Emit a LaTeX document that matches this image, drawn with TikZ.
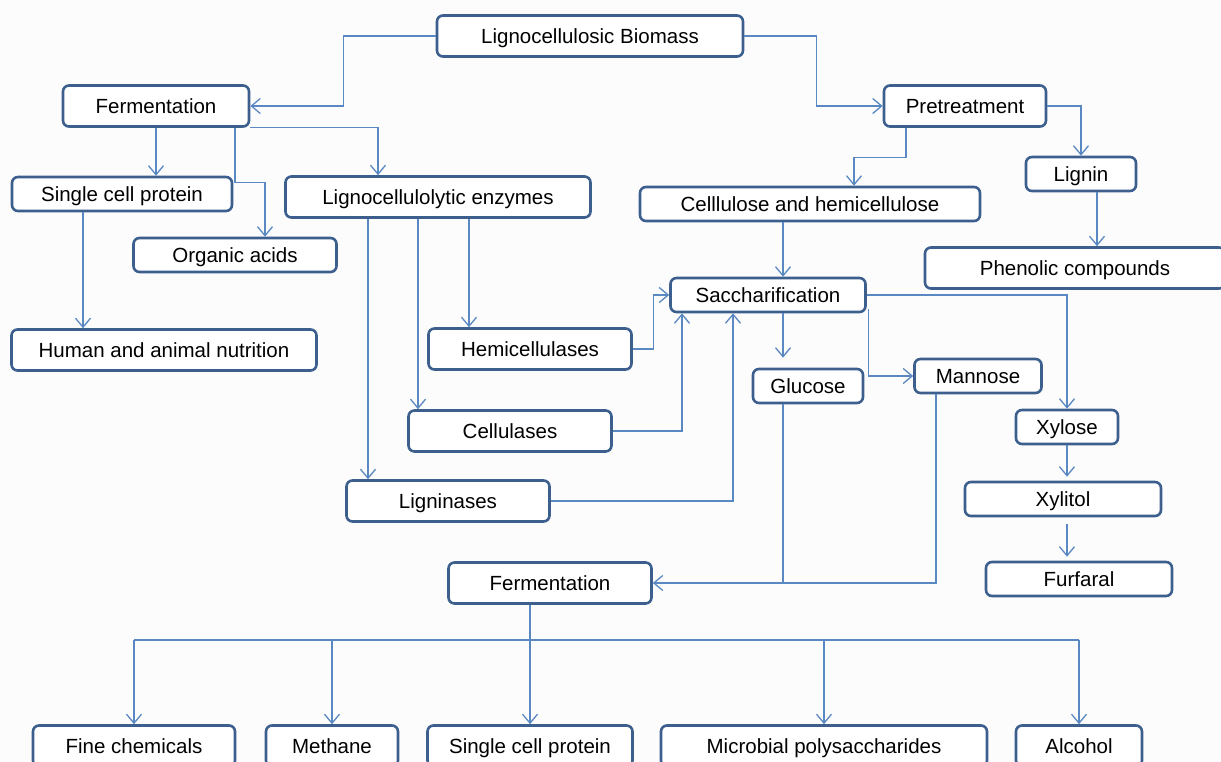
\documentclass[tikz,border=0pt]{standalone}
\usepackage{fontspec}
\setmainfont{Liberation Sans}
\usetikzlibrary{arrows.meta}
\definecolor{boxblue}{HTML}{3C5F8E}
\definecolor{lineblue}{HTML}{5A88C2}
\tikzset{
  box/.style={draw=boxblue, line width=2.6pt, rounded corners=6pt, fill=white,
    inner sep=0pt, text height=14.7pt, text depth=0pt,
    font=\fontsize{20.5}{24}\selectfont},
  tall/.style={minimum height=41pt},
  short/.style={minimum height=34pt},
  line/.style={draw=lineblue, line width=1.3pt},
  link/.style={line, -{Straight Barb[length=9pt,width=15pt,line width=1.3pt]}}
}
\begin{document}
\begin{tikzpicture}[x=1pt,y=-1pt]

      \useasboundingbox (0,0) rectangle (1221,762);
      \fill[white!99!black] (0,0) rectangle (1221,762);
      \clip (0,0) rectangle (1221,762);

      \begin{scope}[every node/.style={box}]
        \node[tall, minimum width=306pt]  (bio)   at (590,36)  {Lignocellulosic Biomass};
        \node[tall, minimum width=186pt]  (fermA) at (156,106) {Fermentation};
        \node[tall, minimum width=162pt]  (pre)   at (965,106) {Pretreatment};
        \node[short, minimum width=220pt] (scpA)  at (122,194) {Single cell protein};
        \node[tall, minimum width=305pt]  (enz)   at (438,197) {Lignocellulolytic enzymes};
        \node[short, minimum width=203pt] (org)   at (235,255) {Organic acids};
        \node[short, minimum width=340pt] (cel)   at (810,204) {Celllulose and hemicellulose};
        \node[short, minimum width=110pt] (lignin) at (1081,174) {Lignin};
        \node[tall, minimum width=300pt]  (phen)  at (1075,268) {Phenolic compounds};
        \node[short, minimum width=195pt] (sacch) at (768,295) {Saccharification};
        \node[tall, minimum width=305pt]  (hum)   at (164,350) {Human and animal nutrition};
        \node[tall, minimum width=203pt]  (hemi)  at (530,349) {Hemicellulases};
        \node[short, minimum width=110pt] (glu)   at (808,386) {Glucose};
        \node[short, minimum width=127pt] (man)   at (978,376) {Mannose};
        \node[tall, minimum width=203pt]  (cellu) at (510,431) {Cellulases};
        \node[short, minimum width=102pt] (xyl)   at (1067,427) {Xylose};
        \node[tall, minimum width=203pt]  (lign)  at (448,501) {Ligninases};
        \node[short, minimum width=196pt] (xyt)   at (1063,499) {Xylitol};
        \node[tall, minimum width=203pt]  (fermB) at (550,583) {Fermentation};
        \node[short, minimum width=186pt] (fur)   at (1079,579) {Furfaral};
        \node[tall, minimum width=202pt]  (fine)  at (134,746) {Fine chemicals};
        \node[tall, minimum width=132pt]  (meth)  at (332,746) {Methane};
        \node[tall, minimum width=205pt]  (scpB)  at (530,746) {Single cell protein};
        \node[tall, minimum width=326pt]  (micro) at (824,746) {Microbial polysaccharides};
        \node[tall, minimum width=126pt]  (alc)   at (1079,746) {Alcohol};
      \end{scope}

      \draw[link] (bio.west) -- ++(-92,0) |- (fermA.east);
      \draw[link] (bio.east) -- ++(72,0) |- (pre.west);

      \draw[link] (fermA.south) -- (fermA.south |- scpA.north);
      \draw[link] ([xshift=79pt]fermA.south) -- ++(0,55) -| ([xshift=30pt]org.north);
      \draw[link] (fermA.south east) -| ([xshift=-60pt]enz.north);
      \draw[link] ([xshift=-39pt]scpA.south) -- ([xshift=-39pt]scpA.south |- hum.north);

      \draw[link] ([xshift=-70pt]enz.south) -- ([xshift=-70pt]enz.south |- lign.north);
      \draw[link] ([xshift=-20pt]enz.south) -- ([xshift=-20pt]enz.south |- cellu.north);
      \draw[link] ([xshift=31pt]enz.south) -- ([xshift=31pt]enz.south |- hemi.north);

      \draw[link] (hemi.east) -- ++(21,0) |- (sacch.west);
      \draw[link] (cellu.east) -| ([xshift=-86pt]sacch.south);
      \draw[link] (lign.east) -| ([xshift=-35pt]sacch.south);

      \draw[link] ([xshift=-59pt]pre.south) -- ++(0,30) -| ([xshift=44pt]cel.north);
      \draw[link] (pre.east) -| (lignin.north);
      \draw[link] ([xshift=16pt]lignin.south) -- ([xshift=16pt]lignin.south |- phen.north);
      \draw[link] ([xshift=-27pt]cel.south) -- ([xshift=-27pt]cel.south |- sacch.north);

      \draw[link] (sacch.east) -| (xyl.north);
      \draw[link] ([xshift=2pt,yshift=-14pt]sacch.east) |- (man.west);
      \draw[link, shorten >=10pt] ([xshift=15pt]sacch.south) -- ([xshift=15pt]sacch.south |- glu.north);
      \draw[line] ([xshift=-25pt]glu.south) -- ([xshift=-25pt]glu.south |- fermB.east);
      \draw[link] ([xshift=-42pt]man.south) |- (fermB.east);

      \draw[link, shorten >=4pt] (xyl.south) -- (xyl.south |- xyt.north);
      \draw[link, shorten <=7pt, shorten >=4pt] (xyl.south |- xyt.south) -- (xyl.south |- fur.north);

      \coordinate (bus) at (530,640);
      \draw[line] ([xshift=-20pt]fermB.south) -- (bus);
      \draw[line] (fine.north |- bus) -- (alc.north |- bus);
      \foreach \n in {fine,meth,scpB,micro,alc}
        \draw[link] (\n.north |- bus) -- (\n.north);

    \end{tikzpicture}
\end{document}
